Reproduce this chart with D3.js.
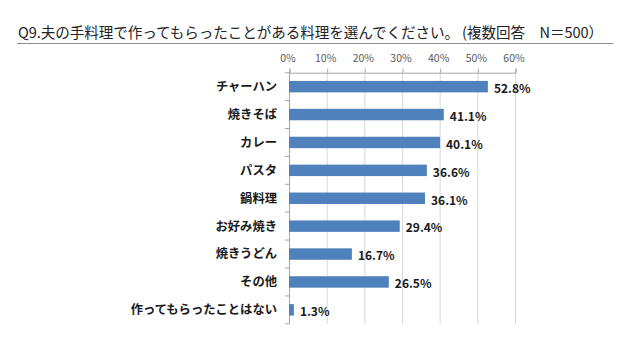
<!DOCTYPE html>
<html><head><meta charset="utf-8">
<script src="https://cdn.jsdelivr.net/npm/d3@7"></script>
<style>
html,body{margin:0;padding:0;background:#fff;}
svg{display:block;}
text{font-family:"Noto Sans CJK JP","Noto Sans",sans-serif;}
</style></head>
<body><svg id="c" width="640" height="347"></svg>
<script>
const title = "Q9.夫の手料理で作ってもらったことがある料理を選んでください。 (複数回答　N＝500）";
const categories = ["チャーハン","焼きそば","カレー","パスタ","鍋料理","お好み焼き","焼きうどん","その他","作ってもらったことはない"];
const values = [52.8, 41.1, 40.1, 36.6, 36.1, 29.4, 16.7, 26.5, 1.3];
const tickValues = [0, 10, 20, 30, 40, 50, 60];

const svg = d3.select("#c");
const x = d3.scaleLinear().domain([0, 60]).range([289, 515]);
const y = d3.scaleBand().domain(categories).range([72.7, 323.8]).paddingInner(0.59).paddingOuter(0.295);

// title
svg.append("text").attr("x", 18).attr("y", 37.5).attr("font-size", "14.6px").attr("fill", "#222")
  .attr("textLength", 585).attr("lengthAdjust", "spacing").text(title);
svg.append("line").attr("x1", 17).attr("x2", 613).attr("y1", 43.5).attr("y2", 43.5).attr("stroke", "#8c8c8c").attr("stroke-width", 1);

// gridlines
svg.append("g").selectAll("line").data(tickValues).join("line")
  .attr("x1", d => x(d) + 0.5).attr("x2", d => x(d) + 0.5)
  .attr("y1", 72.7).attr("y2", 323.8)
  .attr("stroke", "#d9d9d9").attr("stroke-width", 1);

// top axis
const ax = d3.axisTop(x).tickValues(tickValues).tickFormat(d => d + "%").tickSize(4).tickPadding(7);
const gAx = svg.append("g").attr("transform", "translate(0.5,72.7)").call(ax);
gAx.select(".domain").attr("stroke", "#a6a6a6");
gAx.selectAll(".tick line").attr("stroke", "#a6a6a6");
gAx.selectAll(".tick text").attr("font-size", "10.5px").attr("fill", "#595959")
  .attr("font-family", "'Liberation Sans Narrow','Noto Sans',sans-serif").attr("dx", "-2");

// left axis line with boundary ticks
const boundaries = categories.map(c => y(c) - y.step() * y.paddingInner() / 2).concat([323.8]);
svg.append("line").attr("x1", 289.5).attr("x2", 289.5).attr("y1", 72.7).attr("y2", 323.8).attr("stroke", "#a6a6a6");
svg.append("g").selectAll("line").data(boundaries).join("line")
  .attr("x1", 285).attr("x2", 289.5).attr("y1", d => d).attr("y2", d => d)
  .attr("stroke", "#a6a6a6");

// bars
svg.append("g").selectAll("rect").data(categories).join("rect")
  .attr("x", x(0)).attr("y", d => y(d))
  .attr("width", (d, i) => x(values[i]) - x(0)).attr("height", y.bandwidth())
  .attr("fill", "#4f81bd");

// category labels
svg.append("g").selectAll("text").data(categories).join("text")
  .attr("x", 277).attr("y", d => y(d) + y.bandwidth() / 2).attr("dy", "0.36em")
  .attr("text-anchor", "end").attr("font-size", "12.3px").attr("font-weight", "bold").attr("fill", "#1a1a1a")
  .text(d => d);

// value labels
svg.append("g").selectAll("text").data(categories).join("text")
  .attr("x", (d, i) => x(values[i]) + 6).attr("y", d => y(d) + y.bandwidth() / 2 + 2).attr("dy", "0.36em")
  .attr("font-size", "12px").attr("font-weight", "bold").attr("fill", "#1a1a1a")
  .attr("font-family", "'Noto Sans','DejaVu Sans',sans-serif")
  .text((d, i) => values[i].toFixed(1) + "%");
</script></body></html>
